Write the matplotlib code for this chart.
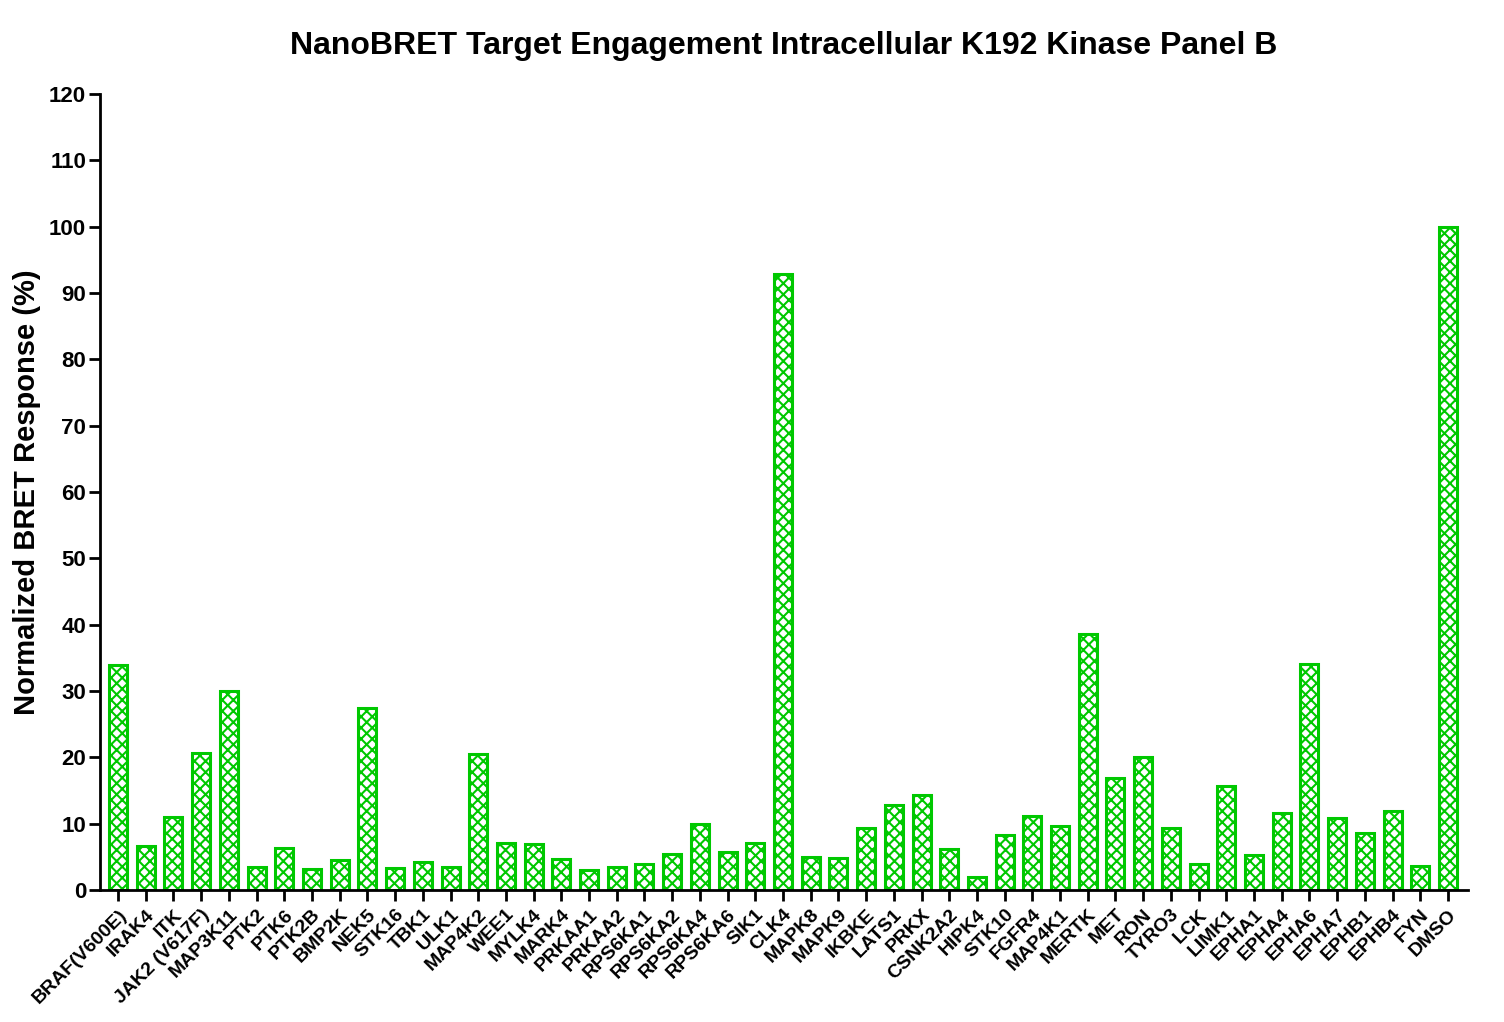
import matplotlib.pyplot as plt

plt.rcParams['font.family'] = ['Liberation Sans', 'DejaVu Sans']
plt.rcParams['font.weight'] = 'bold'
plt.rcParams['hatch.color'] = '#00c800'
plt.rcParams['hatch.linewidth'] = 1.5

kinases = ['BRAF(V600E)', 'IRAK4', 'ITK', 'JAK2 (V617F)', 'MAP3K11', 'PTK2', 'PTK6', 'PTK2B',
           'BMP2K', 'NEK5', 'STK16', 'TBK1', 'ULK1', 'MAP4K2', 'WEE1', 'MYLK4', 'MARK4',
           'PRKAA1', 'PRKAA2', 'RPS6KA1', 'RPS6KA2', 'RPS6KA4', 'RPS6KA6', 'SIK1', 'CLK4',
           'MAPK8', 'MAPK9', 'IKBKE', 'LATS1', 'PRKX', 'CSNK2A2', 'HIPK4', 'STK10', 'FGFR4',
           'MAP4K1', 'MERTK', 'MET', 'RON', 'TYRO3', 'LCK', 'LIMK1', 'EPHA1', 'EPHA4', 'EPHA6',
           'EPHA7', 'EPHB1', 'EPHB4', 'FYN', 'DMSO']
response = [33.9, 6.6, 11.0, 20.7, 30.0, 3.5, 6.3, 3.2,
            4.5, 27.4, 3.3, 4.2, 3.5, 20.5, 7.1, 6.9, 4.7,
            3.0, 3.5, 3.9, 5.4, 10.0, 5.7, 7.1, 92.9,
            5.0, 4.8, 9.3, 12.8, 14.3, 6.2, 2.0, 8.3, 11.2,
            9.6, 38.6, 16.9, 20.0, 9.3, 3.9, 15.7, 5.3, 11.6, 34.1,
            10.9, 8.6, 11.9, 3.6, 100.0]

fig = plt.figure(figsize=(15.04, 10.22), dpi=100)
ax = fig.add_axes([0.0665, 0.129, 0.9095, 0.779])

x = list(range(len(kinases)))
ax.bar(x, response, width=0.65, color='white', edgecolor='#00c800', linewidth=2.2, hatch='xxx')

ax.set_xlim(-0.65, len(kinases) - 0.28)
ax.set_ylim(0, 120)
ax.set_yticks(range(0, 121, 10))
ax.set_xticks(x)
ax.set_xticklabels(kinases, rotation=45, ha='right', rotation_mode='anchor', fontsize=14, fontweight='bold')
ax.tick_params(axis='y', labelsize=16, width=2, length=8, direction='out', pad=2)
ax.tick_params(axis='x', width=2, length=8, direction='out')
for lbl in ax.get_yticklabels():
    lbl.set_fontweight('bold')

for s in ['top', 'right']:
    ax.spines[s].set_visible(False)
for s in ['left', 'bottom']:
    ax.spines[s].set_linewidth(2)

ax.set_ylabel('Normalized BRET Response (%)', fontsize=21, fontweight='bold', labelpad=6)
fig.suptitle('NanoBRET Target Engagement Intracellular K192 Kinase Panel B', fontsize=23, fontweight='bold', x=0.521, y=0.97)

fig.savefig('out.png', dpi=100)
